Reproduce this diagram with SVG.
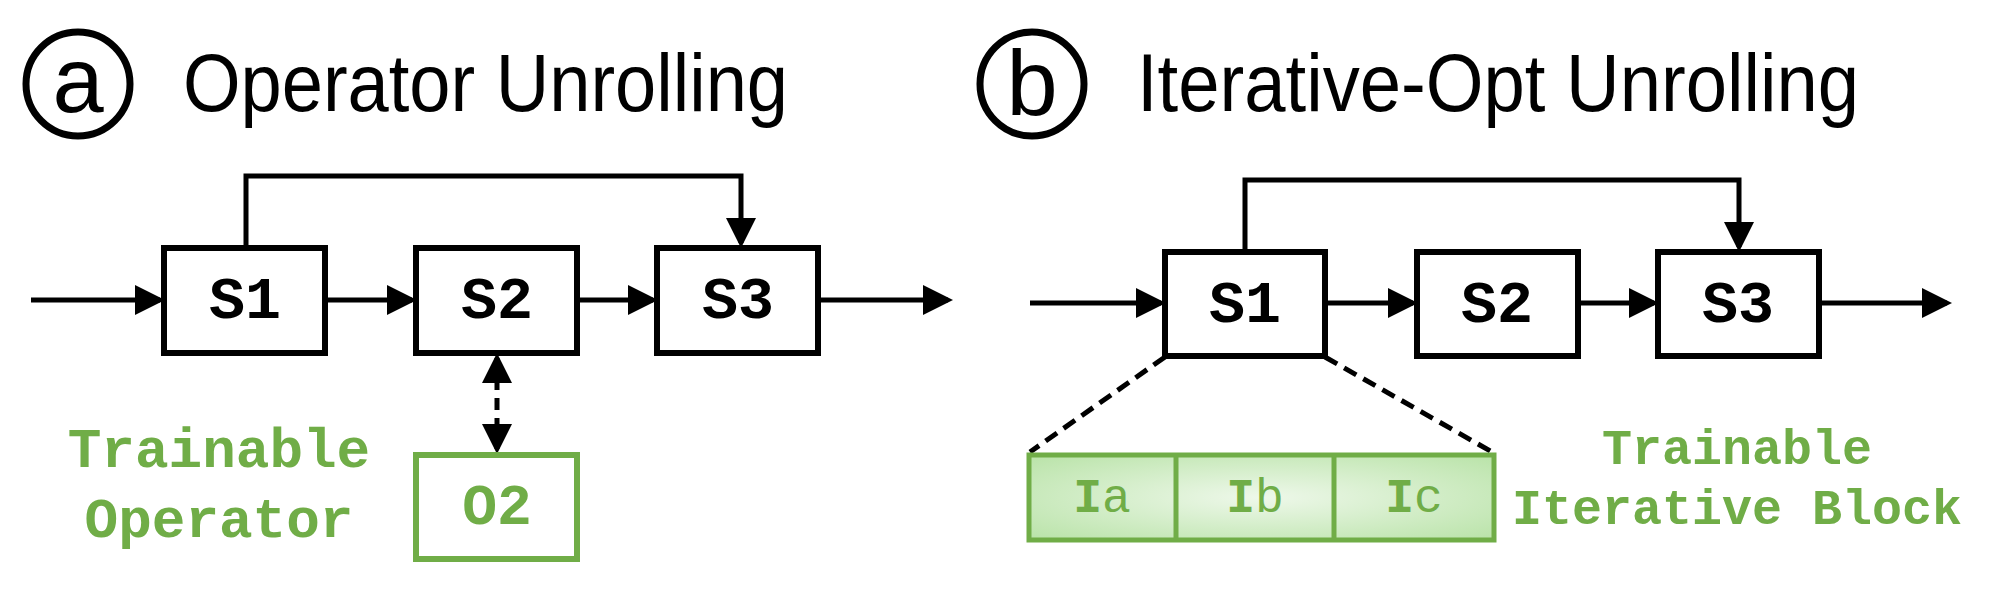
<svg xmlns="http://www.w3.org/2000/svg" width="2012" height="591" viewBox="0 0 2012 591">
<style>
.box{fill:#fff;stroke:#000;stroke-width:6}
.ln{fill:none;stroke:#000;stroke-width:5}
.lbl{font-family:"Liberation Mono",monospace;font-weight:bold;font-size:60px;text-anchor:middle}
.title{font-family:"Liberation Sans",Arial,sans-serif;font-size:82px}
.circ{fill:none;stroke:#000;stroke-width:7}
.circt{font-family:"Liberation Sans",Arial,sans-serif;font-size:92px;text-anchor:middle}
.g{fill:#70AD47;font-family:"Liberation Mono",monospace;font-weight:bold;text-anchor:middle}
</style>
<defs>
<marker id="ar" markerWidth="6" markerHeight="6" refX="5" refY="3" orient="auto" markerUnits="strokeWidth"><path d="M0,0 L6,3 L0,6 z" fill="#000"/></marker>
<marker id="ar2" markerWidth="6" markerHeight="6" refX="5" refY="3" orient="auto-start-reverse" markerUnits="strokeWidth"><path d="M0,0 L6,3 L0,6 z" fill="#000"/></marker>
<radialGradient id="gg" cx="0.5" cy="0.5" r="0.7"><stop offset="0" stop-color="#eef8ea"/><stop offset="1" stop-color="#b9e3a8"/></radialGradient>
</defs>
<g id="title-a"><circle class="circ" cx="78" cy="84" r="52"/><text class="circt" x="78" y="112">a</text><text class="title" x="183" y="111" textLength="605" lengthAdjust="spacingAndGlyphs">Operator Unrolling</text></g>
<g id="title-b"><circle class="circ" cx="1032" cy="84" r="52"/><text class="circt" x="1032" y="115">b</text><text class="title" x="1137" y="111" textLength="722" lengthAdjust="spacingAndGlyphs">Iterative-Opt Unrolling</text></g>
<g id="connectors">
<line class="ln" x1="31" y1="300" x2="160" y2="300" marker-end="url(#ar)"/>
<line class="ln" x1="325" y1="300" x2="412" y2="300" marker-end="url(#ar)"/>
<line class="ln" x1="577" y1="300" x2="653" y2="300" marker-end="url(#ar)"/>
<line class="ln" x1="818" y1="300" x2="948" y2="300" marker-end="url(#ar)"/>
<polyline class="ln" points="246,247 246,176 741,176 741,243" marker-end="url(#ar)"/>
<line class="ln" x1="497" y1="358" x2="497" y2="449" stroke-dasharray="12,8" marker-start="url(#ar2)" marker-end="url(#ar2)"/>
<line class="ln" x1="1030" y1="303" x2="1161" y2="303" marker-end="url(#ar)"/>
<line class="ln" x1="1325" y1="303" x2="1413" y2="303" marker-end="url(#ar)"/>
<line class="ln" x1="1578" y1="303" x2="1654" y2="303" marker-end="url(#ar)"/>
<line class="ln" x1="1819" y1="303" x2="1947" y2="303" marker-end="url(#ar)"/>
<polyline class="ln" points="1245,251 1245,180 1739,180 1739,247" marker-end="url(#ar)"/>
<line class="ln" x1="1165" y1="357" x2="1030" y2="452" stroke-dasharray="14,8"/>
<line class="ln" x1="1325" y1="357" x2="1492" y2="452" stroke-dasharray="14,8"/>
</g>
<g id="a-S1"><rect class="box" x="164" y="248" width="161" height="105"/><text class="lbl" x="245" y="318">S1</text></g>
<g id="a-S2"><rect class="box" x="416" y="248" width="161" height="105"/><text class="lbl" x="497" y="318">S2</text></g>
<g id="a-S3"><rect class="box" x="657" y="248" width="161" height="105"/><text class="lbl" x="738" y="318">S3</text></g>
<g id="a-O2"><rect x="416" y="455" width="161" height="104" fill="#fff" stroke="#70AD47" stroke-width="6"/><text class="g" x="497" y="524" font-size="58">O2</text></g>
<g id="a-label"><text class="g" x="219" y="467" font-size="56">Trainable</text><text class="g" x="219" y="537" font-size="56">Operator</text></g>
<g id="b-S1"><rect class="box" x="1165" y="252" width="160" height="104"/><text class="lbl" x="1245" y="322">S1</text></g>
<g id="b-S2"><rect class="box" x="1417" y="252" width="161" height="104"/><text class="lbl" x="1497" y="322">S2</text></g>
<g id="b-S3"><rect class="box" x="1658" y="252" width="161" height="104"/><text class="lbl" x="1738" y="322">S3</text></g>
<g id="b-block">
<rect x="1029" y="455" width="465" height="85" fill="url(#gg)" stroke="#70AD47" stroke-width="5"/>
<line x1="1176" y1="455" x2="1176" y2="540" stroke="#70AD47" stroke-width="5"/>
<line x1="1334" y1="455" x2="1334" y2="540" stroke="#70AD47" stroke-width="5"/>
<text x="1102" y="512" fill="#70AD47" font-family="Liberation Mono,monospace" font-size="48" text-anchor="middle"><tspan font-weight="bold">I</tspan>a</text>
<text x="1255" y="512" fill="#70AD47" font-family="Liberation Mono,monospace" font-size="48" text-anchor="middle"><tspan font-weight="bold">I</tspan>b</text>
<text x="1414" y="512" fill="#70AD47" font-family="Liberation Mono,monospace" font-size="48" text-anchor="middle"><tspan font-weight="bold">I</tspan>c</text>
</g>
<g id="b-label"><text class="g" x="1737" y="464" font-size="50">Trainable</text><text class="g" x="1737" y="524" font-size="50">Iterative Block</text></g>
</svg>
